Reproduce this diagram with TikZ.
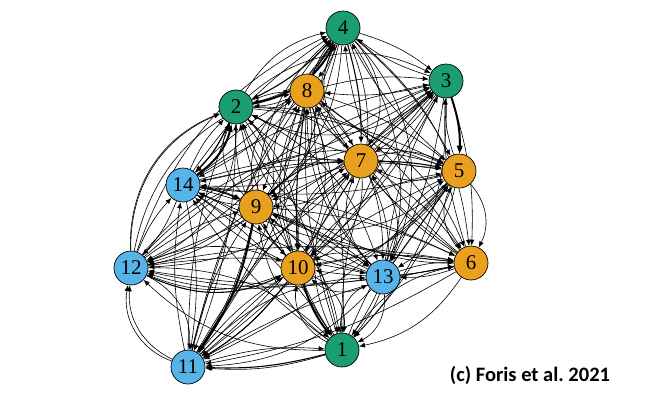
\documentclass[tikz,border=0pt]{standalone}
\usepackage{fontspec}
\setmainfont{Liberation Serif}
\newfontfamily\capfont{Carlito}
\usetikzlibrary{arrows.meta}
\pgfdeclarelayer{bg}
\pgfsetlayers{bg,main}
\definecolor{cgreen}{HTML}{1A9E72}
\definecolor{corange}{HTML}{E8A01E}
\definecolor{cblue}{HTML}{56B4E9}
\begin{document}
\begin{tikzpicture}[x=1pt,y=-1pt,
  v/.style={circle,draw=black,line width=0.7pt,minimum size=34pt,inner sep=0pt,font=\fontsize{21}{21}\selectfont},
  g/.style={v,fill=cgreen}, o/.style={v,fill=corange}, b/.style={v,fill=cblue},
  e/.style={-{Latex[length=6pt,width=5pt]},line width=0.6pt},
  em/.style={-{Latex[length=7pt,width=5.5pt]},line width=1.1pt},
  eb/.style={-{Latex[length=8pt,width=6.5pt]},line width=2pt}]
\useasboundingbox (0,0) rectangle (650,400);
\node[g] (n1) at (342,350) {1};
\node[g] (n2) at (236,107) {2};
\node[g] (n3) at (446,81) {3};
\node[g] (n4) at (343,28) {4};
\node[o] (n5) at (459,171) {5};
\node[o] (n6) at (471,263) {6};
\node[o] (n7) at (361,161) {7};
\node[o] (n8) at (307,91) {8};
\node[o] (n9) at (256,207) {9};
\node[o] (n10) at (298,268) {10};
\node[b] (n11) at (188,367) {11};
\node[b] (n12) at (131,268) {12};
\node[b] (n13) at (383,277) {13};
\node[b] (n14) at (183,185) {14};
\begin{pgfonlayer}{bg}
\foreach \a in {1,...,14}{\foreach \b in {1,...,14}{%
  \ifnum\a<\b
    \pgfmathtruncatemacro\bd{10+12*mod(\a*\b+\a,3)}%
    \draw[e] (n\a) to[bend left=\bd] (n\b);
    \draw[e] (n\b) to[bend left=\bd] (n\a);
  \fi}}
\draw[eb] (n2) to[bend right=25] (n4);
\draw[em] (n4) to[bend left=10] (n2);
\draw[eb] (n14) to[bend right=20] (n2);
\draw[em] (n2) to[bend left=10] (n14);
\draw[eb] (n9) to[bend left=12] (n11);
\draw[eb] (n10) to[bend right=10] (n1);
\draw[eb] (n3) to[bend left=10] (n5);
\draw[em] (n13) -- (n5);
\draw[em] (n12) to[bend right=25] (n10);
\draw[em] (n14) to[bend left=8] (n9);
\draw[em] (n8) to[bend right=5] (n10);
\draw[em] (n1) to[bend left=8] (n11);
\draw[em] (n10) to[bend left=10] (n11);
\draw[em] (n4) to[bend left=8] (n7);
\draw[em] (n7) to[bend left=5] (n5);
\draw[e] (n12) to[bend left=35] (n2);
\draw[e] (n11) to[bend left=40] (n12);
\end{pgfonlayer}
\node[font=\capfont\bfseries\fontsize{20.5}{20.5}\selectfont] (cap) at (530,375) {(c) Foris et al.\ 2021};
\end{tikzpicture}
\end{document}
